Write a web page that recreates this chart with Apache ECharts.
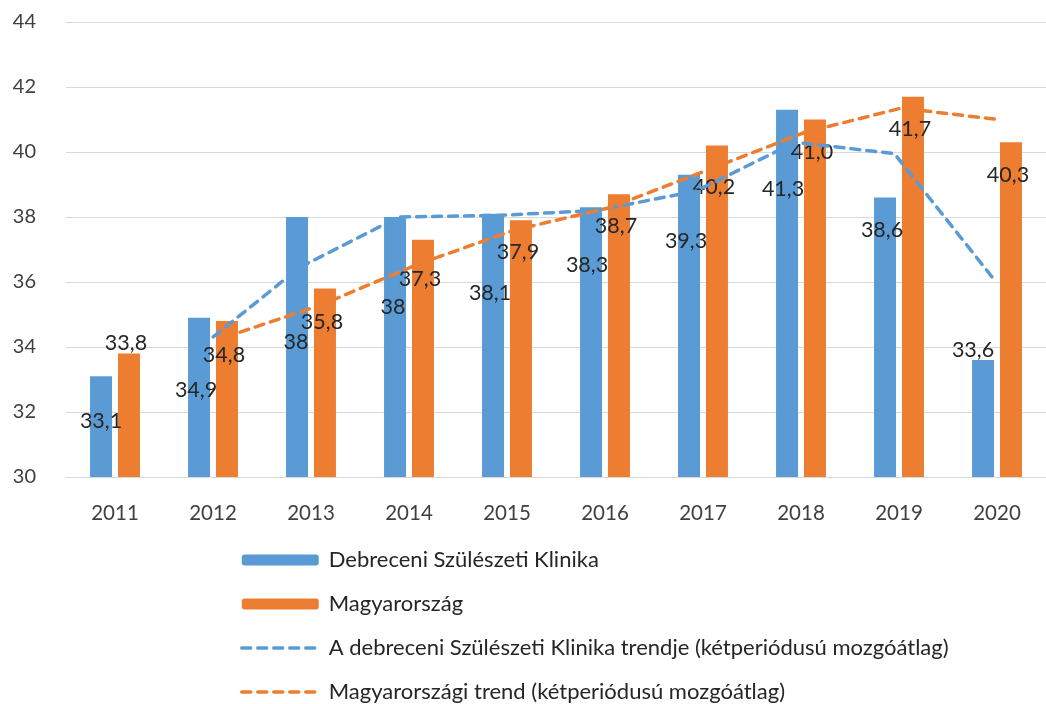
<!DOCTYPE html>
<html>
<head>
<meta charset="utf-8">
<script src="https://cdn.jsdelivr.net/npm/echarts@6/dist/echarts.min.js"></script>
<style>
  html, body { margin: 0; padding: 0; background: #fff; }
  #chart { width: 1046px; height: 704px; }
</style>
</head>
<body>
<div id="chart"></div>
<script>
/* Debrecen vs. országos átlag, 2011–2020: oszlopok + kétperiódusú mozgóátlag trendvonalak. */

const years = ['2011', '2012', '2013', '2014', '2015', '2016', '2017', '2018', '2019', '2020'];
const debrecen = [33.1, 34.9, 38, 38, 38.1, 38.3, 39.3, 41.3, 38.6, 33.6];
const magyar = [33.8, 34.8, 35.8, 37.3, 37.9, 38.7, 40.2, 41.0, 41.7, 40.3];
const debrecenTrend = [null, 34.0, 36.45, 38.0, 38.05, 38.2, 38.8, 40.3, 39.95, 36.1];
const magyarTrend = [null, 34.3, 35.3, 36.55, 37.6, 38.3, 39.45, 40.6, 41.35, 41.0];
const debrecenLabels = ['33,1', '34,9', '38', '38', '38,1', '38,3', '39,3', '41,3', '38,6', '33,6'];
const magyarLabels = ['33,8', '34,8', '35,8', '37,3', '37,9', '38,7', '40,2', '41,0', '41,7', '40,3'];

// címkék eltolása az oszlop tetejének közepéhez képest (px) – az eredeti kézi elhelyezés
const debrecenShift = [[0, 45], [-3, 72], [-1, 125], [-2, 90], [-3, 79], [-4, 58], [-3, 66], [-4, 79], [-3, 33], [-10, -10]];
const magyarShift = [[-3, -10], [-3, 34], [-3, 34], [-3, 39], [-3, 32], [-3, 32], [-3, 42], [-3, 33], [-3, 32], [-3, 33]];

const BLUE = '#5B9BD5';
const ORANGE = '#ED7D31';
const FONT = 'Lato, "Open Sans", sans-serif';

const G = { left: 66, right: -11, top: 22, bottom: 227 };
const BAR_SHIFT = 14;   // oszlopközép távolsága a kategória közepétől
const DASH = { width: 3.5, type: [9, 7], cap: 'round' };

const yBase = (i, show) => ({
  type: 'value', gridIndex: i, min: 30, max: 44, interval: 2, show,
  axisLine: { show: false }, axisTick: { show: false },
  axisLabel: { show, color: '#404040', fontFamily: FONT, fontSize: 20, margin: 30 },
  splitLine: { show, lineStyle: { color: '#D9D9D9', width: 1 } },
});
const xBase = (i, show) => ({
  type: 'category', gridIndex: i, data: years, show,
  axisLine: { show, lineStyle: { color: '#D9D9D9', width: 1 } },
  axisTick: { show: false },
  axisLabel: { show, color: '#404040', fontFamily: FONT, fontSize: 20.5, margin: 26 },
});

const barLabel = {
  show: true, position: ['50%', 0], align: 'center', verticalAlign: 'middle',
  color: '#262626', fontFamily: FONT, fontSize: 21.5,
};

const option = {
  animation: false,
  grid: [
    G,
    { ...G, left: G.left - BAR_SHIFT, right: G.right + BAR_SHIFT },
    { ...G, left: G.left + BAR_SHIFT, right: G.right - BAR_SHIFT },
  ],
  xAxis: [xBase(0, true), xBase(1, false), xBase(2, false)],
  yAxis: [yBase(0, true), yBase(1, false), yBase(2, false)],
  legend: {
    orient: 'vertical', left: 240, top: 549, height: 200, padding: 0,
    itemWidth: 77, itemHeight: 11, itemGap: 22,
    lineStyle: { width: 3.5 },
    textStyle: { color: '#262626', fontFamily: FONT, fontSize: 22, lineHeight: 22, padding: [0, 0, 0, 5] },
    data: [
      'Debreceni Szülészeti Klinika',
      'Magyarország',
      'A debreceni Szülészeti Klinika trendje (kétperiódusú mozgóátlag)',
      'Magyarországi trend (kétperiódusú mozgóátlag)',
    ],
  },
  series: [
    {
      name: 'Debreceni Szülészeti Klinika', type: 'bar',
      barWidth: 22, barGap: '27%',
      itemStyle: { color: BLUE },
      data: debrecen.map((v, i) => ({ value: v, label: { offset: debrecenShift[i] } })),
      label: { ...barLabel, formatter: p => debrecenLabels[p.dataIndex] },
      z: 2,
    },
    {
      name: 'Magyarország', type: 'bar',
      barWidth: 22,
      itemStyle: { color: ORANGE },
      data: magyar.map((v, i) => ({ value: v, label: { offset: magyarShift[i] } })),
      label: { ...barLabel, formatter: p => magyarLabels[p.dataIndex] },
      z: 2,
    },
    {
      name: 'A debreceni Szülészeti Klinika trendje (kétperiódusú mozgóátlag)', type: 'line',
      xAxisIndex: 1, yAxisIndex: 1,
      data: debrecenTrend, symbol: 'none',
      lineStyle: { color: BLUE, ...DASH },
      itemStyle: { color: 'rgba(0,0,0,0)', borderWidth: 0 },
      z: 3,
    },
    {
      name: 'Magyarországi trend (kétperiódusú mozgóátlag)', type: 'line',
      xAxisIndex: 2, yAxisIndex: 2,
      data: magyarTrend, symbol: 'none',
      lineStyle: { color: ORANGE, ...DASH },
      itemStyle: { color: 'rgba(0,0,0,0)', borderWidth: 0 },
      z: 3,
    },
  ],
};

const chart = echarts.init(document.getElementById('chart'), null, { renderer: 'canvas' });
chart.setOption(option);
</script>
</body>
</html>
